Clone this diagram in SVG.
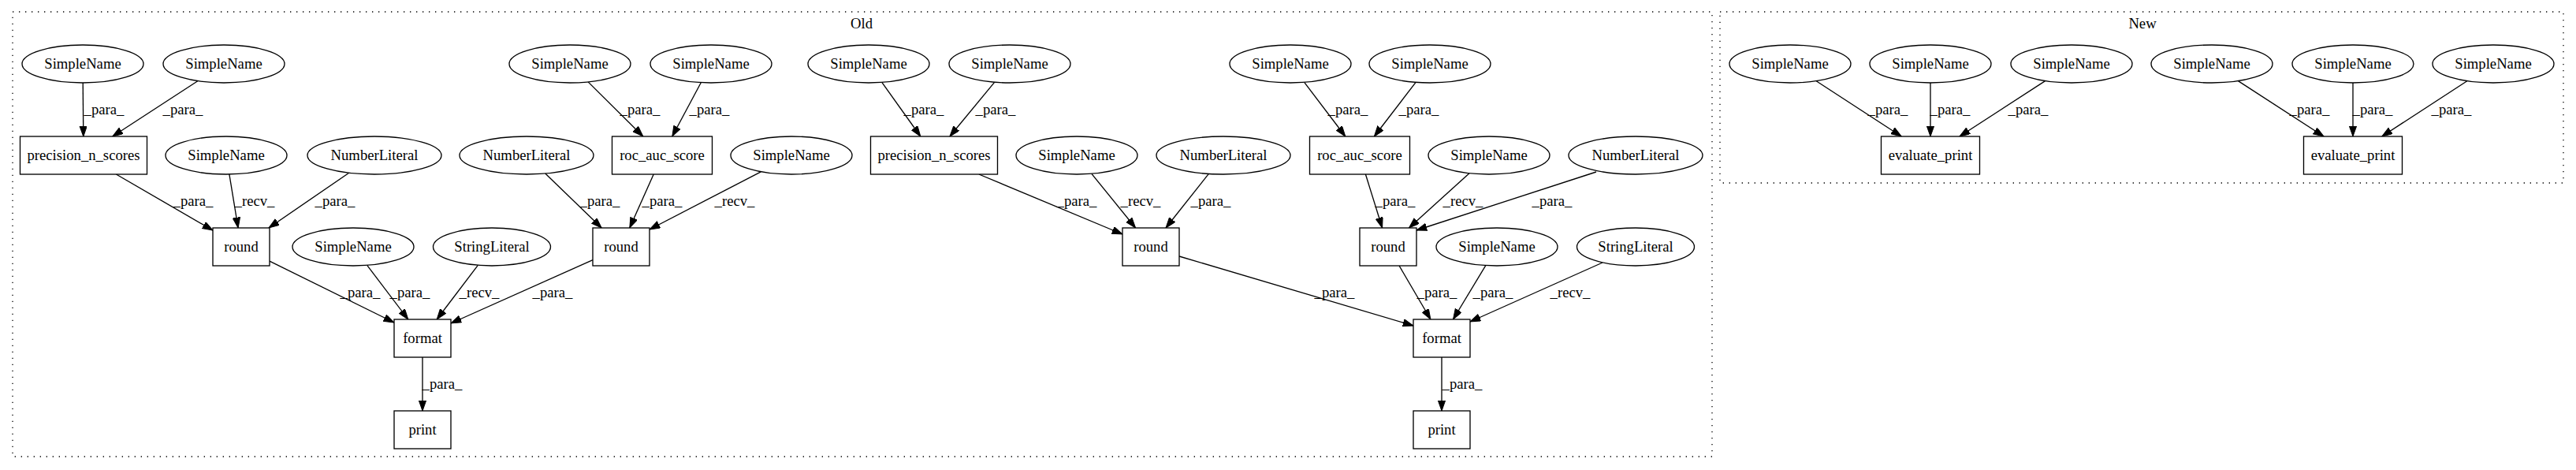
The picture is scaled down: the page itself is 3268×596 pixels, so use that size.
<svg xmlns="http://www.w3.org/2000/svg" width="3268" height="596" viewBox="0 0 3268 596">
<style>
text{font-family:"Liberation Serif","Times New Roman",serif;font-size:18.67px;fill:#000}
.n text{text-anchor:middle}
.n ellipse,.n rect{fill:#fff;stroke:#000;stroke-width:1.33}
.cl{fill:none;stroke:#000;stroke-width:1.33;stroke-dasharray:1.33,6.67}
.e line{stroke:#000;stroke-width:1.33;marker-end:url(#ah)}
.lb text{text-anchor:middle}
.ct{text-anchor:middle}
</style>
<defs>
<marker id="ah" markerUnits="userSpaceOnUse" markerWidth="14" markerHeight="10" refX="13.3" refY="4.7" orient="auto">
<path d="M0,0 L13.3,4.7 L0,9.4 z" fill="#000" stroke="#000" stroke-width="1"/>
</marker>
</defs>
<rect width="3268" height="596" fill="#fff"/>
<g id="cluster_old"><rect class="cl" x="16" y="15" width="2156" height="564"/><text class="ct" x="1093" y="36">Old</text></g>
<g id="cluster_new"><rect class="cl" x="2182" y="15" width="1070" height="217"/><text class="ct" x="2718" y="36">New</text></g>

<g id="edges">
<g class="e">
<line x1="105.2" y1="105" x2="105.8" y2="173"/>
<line x1="250.8" y1="102.7" x2="142.8" y2="173"/>
<line x1="147.4" y1="221" x2="270" y2="292.1"/>
<line x1="290.9" y1="221" x2="302.1" y2="289"/>
<line x1="442.7" y1="219.2" x2="341" y2="289"/>
<line x1="691.8" y1="220" x2="763.2" y2="289"/>
<line x1="746.1" y1="103.9" x2="815.8" y2="173"/>
<line x1="889.3" y1="104.7" x2="852.8" y2="173"/>
<line x1="829.2" y1="221" x2="798.8" y2="289"/>
<line x1="965.3" y1="217.8" x2="824" y2="291"/>
<line x1="342" y1="331.2" x2="500" y2="409"/>
<line x1="465.7" y1="336.4" x2="517.8" y2="405"/>
<line x1="606.3" y1="336.3" x2="554.2" y2="405"/>
<line x1="752" y1="329.6" x2="572" y2="410"/>
<line x1="536" y1="453" x2="536" y2="521"/>
<line x1="1118.8" y1="104.4" x2="1167.8" y2="173"/>
<line x1="1261.8" y1="104.2" x2="1204.9" y2="173"/>
<line x1="1241.9" y1="221" x2="1424" y2="297"/>
<line x1="1384.9" y1="220.3" x2="1440.6" y2="289"/>
<line x1="1533.4" y1="220.4" x2="1479" y2="289"/>
<line x1="1654.7" y1="104.4" x2="1706.8" y2="173"/>
<line x1="1796.1" y1="104.3" x2="1743.4" y2="173"/>
<line x1="1732.4" y1="221" x2="1753.6" y2="289"/>
<line x1="1864" y1="219.7" x2="1787.5" y2="289"/>
<line x1="2025" y1="218" x2="1797" y2="292"/>
<line x1="1496" y1="325" x2="1793" y2="413"/>
<line x1="1775.1" y1="337" x2="1814.9" y2="405"/>
<line x1="1884.8" y1="336.6" x2="1843.5" y2="405"/>
<line x1="2033" y1="333" x2="1865" y2="408"/>
<line x1="1829" y1="453" x2="1829" y2="521"/>
<line x1="2304.2" y1="102.7" x2="2412.2" y2="173"/>
<line x1="2449" y1="105" x2="2449" y2="173"/>
<line x1="2594.6" y1="102.6" x2="2486" y2="173"/>
<line x1="2839.4" y1="102.6" x2="2948" y2="173"/>
<line x1="2985" y1="105" x2="2985" y2="173"/>
<line x1="3129.8" y1="102.7" x2="3021.8" y2="173"/>
</g>
<g class="lb">
<text x="132" y="145">_para_</text>
<text x="232" y="145">_para_</text>
<text x="245" y="261">_para_</text>
<text x="323" y="261">_recv_</text>
<text x="425" y="261">_para_</text>
<text x="761" y="261">_para_</text>
<text x="812" y="145">_para_</text>
<text x="900" y="145">_para_</text>
<text x="840" y="261">_para_</text>
<text x="932" y="261">_recv_</text>
<text x="457" y="377">_para_</text>
<text x="520" y="377">_para_</text>
<text x="608" y="377">_recv_</text>
<text x="701" y="377">_para_</text>
<text x="561" y="493">_para_</text>
<text x="1172" y="145">_para_</text>
<text x="1263" y="145">_para_</text>
<text x="1366" y="261">_para_</text>
<text x="1447" y="261">_recv_</text>
<text x="1536" y="261">_para_</text>
<text x="1710" y="145">_para_</text>
<text x="1800" y="145">_para_</text>
<text x="1770" y="261">_para_</text>
<text x="1856" y="261">_recv_</text>
<text x="1969" y="261">_para_</text>
<text x="1693" y="377">_para_</text>
<text x="1823" y="377">_para_</text>
<text x="1894" y="377">_para_</text>
<text x="1992" y="377">_recv_</text>
<text x="1855" y="493">_para_</text>
<text x="2395" y="145">_para_</text>
<text x="2474" y="145">_para_</text>
<text x="2573" y="145">_para_</text>
<text x="2930" y="145">_para_</text>
<text x="3010" y="145">_para_</text>
<text x="3110" y="145">_para_</text>
</g>
</g>

<g id="n1" class="n"><ellipse cx="105" cy="81" rx="77" ry="24"/><text x="105" y="87">SimpleName</text></g>
<g id="n2" class="n"><ellipse cx="284" cy="81" rx="77" ry="24"/><text x="284" y="87">SimpleName</text></g>
<g id="n3" class="n"><rect x="25.5" y="173" width="161" height="48"/><text x="106" y="203">precision_n_scores</text></g>
<g id="n4" class="n"><ellipse cx="287" cy="197" rx="77" ry="24"/><text x="287" y="203">SimpleName</text></g>
<g id="n5" class="n"><ellipse cx="475" cy="197" rx="85" ry="24"/><text x="475" y="203">NumberLiteral</text></g>
<g id="n6" class="n"><rect x="270" y="289" width="72" height="48"/><text x="306" y="319">round</text></g>
<g id="n7" class="n"><ellipse cx="668" cy="197" rx="85" ry="24"/><text x="668" y="203">NumberLiteral</text></g>
<g id="n8" class="n"><ellipse cx="723" cy="81" rx="77" ry="24"/><text x="723" y="87">SimpleName</text></g>
<g id="n9" class="n"><ellipse cx="902" cy="81" rx="77" ry="24"/><text x="902" y="87">SimpleName</text></g>
<g id="n10" class="n"><rect x="776.5" y="173" width="127" height="48"/><text x="840" y="203">roc_auc_score</text></g>
<g id="n11" class="n"><ellipse cx="1004" cy="197" rx="77" ry="24"/><text x="1004" y="203">SimpleName</text></g>
<g id="n12" class="n"><rect x="752" y="289" width="72" height="48"/><text x="788" y="319">round</text></g>
<g id="n13" class="n"><ellipse cx="448" cy="313" rx="77" ry="24"/><text x="448" y="319">SimpleName</text></g>
<g id="n14" class="n"><ellipse cx="624" cy="313" rx="74.5" ry="24"/><text x="624" y="319">StringLiteral</text></g>
<g id="n15" class="n"><rect x="500" y="405" width="72" height="48"/><text x="536" y="435">format</text></g>
<g id="n16" class="n"><rect x="500" y="521" width="72" height="48"/><text x="536" y="551">print</text></g>
<g id="n17" class="n"><ellipse cx="1102" cy="81" rx="77" ry="24"/><text x="1102" y="87">SimpleName</text></g>
<g id="n18" class="n"><ellipse cx="1281" cy="81" rx="77" ry="24"/><text x="1281" y="87">SimpleName</text></g>
<g id="n19" class="n"><rect x="1104.5" y="173" width="161" height="48"/><text x="1185" y="203">precision_n_scores</text></g>
<g id="n20" class="n"><ellipse cx="1366" cy="197" rx="77" ry="24"/><text x="1366" y="203">SimpleName</text></g>
<g id="n21" class="n"><ellipse cx="1552" cy="197" rx="85" ry="24"/><text x="1552" y="203">NumberLiteral</text></g>
<g id="n22" class="n"><rect x="1424" y="289" width="72" height="48"/><text x="1460" y="319">round</text></g>
<g id="n23" class="n"><ellipse cx="1637" cy="81" rx="77" ry="24"/><text x="1637" y="87">SimpleName</text></g>
<g id="n24" class="n"><ellipse cx="1814" cy="81" rx="77" ry="24"/><text x="1814" y="87">SimpleName</text></g>
<g id="n25" class="n"><rect x="1661.5" y="173" width="127" height="48"/><text x="1725" y="203">roc_auc_score</text></g>
<g id="n26" class="n"><ellipse cx="1889" cy="197" rx="77" ry="24"/><text x="1889" y="203">SimpleName</text></g>
<g id="n27" class="n"><ellipse cx="2075" cy="197" rx="85" ry="24"/><text x="2075" y="203">NumberLiteral</text></g>
<g id="n28" class="n"><rect x="1725" y="289" width="72" height="48"/><text x="1761" y="319">round</text></g>
<g id="n29" class="n"><ellipse cx="1899" cy="313" rx="77" ry="24"/><text x="1899" y="319">SimpleName</text></g>
<g id="n30" class="n"><ellipse cx="2075" cy="313" rx="74.5" ry="24"/><text x="2075" y="319">StringLiteral</text></g>
<g id="n31" class="n"><rect x="1793" y="405" width="72" height="48"/><text x="1829" y="435">format</text></g>
<g id="n32" class="n"><rect x="1793" y="521" width="72" height="48"/><text x="1829" y="551">print</text></g>
<g id="n33" class="n"><ellipse cx="2271" cy="81" rx="77" ry="24"/><text x="2271" y="87">SimpleName</text></g>
<g id="n34" class="n"><ellipse cx="2449" cy="81" rx="77" ry="24"/><text x="2449" y="87">SimpleName</text></g>
<g id="n35" class="n"><ellipse cx="2628" cy="81" rx="77" ry="24"/><text x="2628" y="87">SimpleName</text></g>
<g id="n36" class="n"><rect x="2386.5" y="173" width="125" height="48"/><text x="2449" y="203">evaluate_print</text></g>
<g id="n37" class="n"><ellipse cx="2806" cy="81" rx="77" ry="24"/><text x="2806" y="87">SimpleName</text></g>
<g id="n38" class="n"><ellipse cx="2985" cy="81" rx="77" ry="24"/><text x="2985" y="87">SimpleName</text></g>
<g id="n39" class="n"><ellipse cx="3163" cy="81" rx="77" ry="24"/><text x="3163" y="87">SimpleName</text></g>
<g id="n40" class="n"><rect x="2922.5" y="173" width="125" height="48"/><text x="2985" y="203">evaluate_print</text></g>
</svg>
